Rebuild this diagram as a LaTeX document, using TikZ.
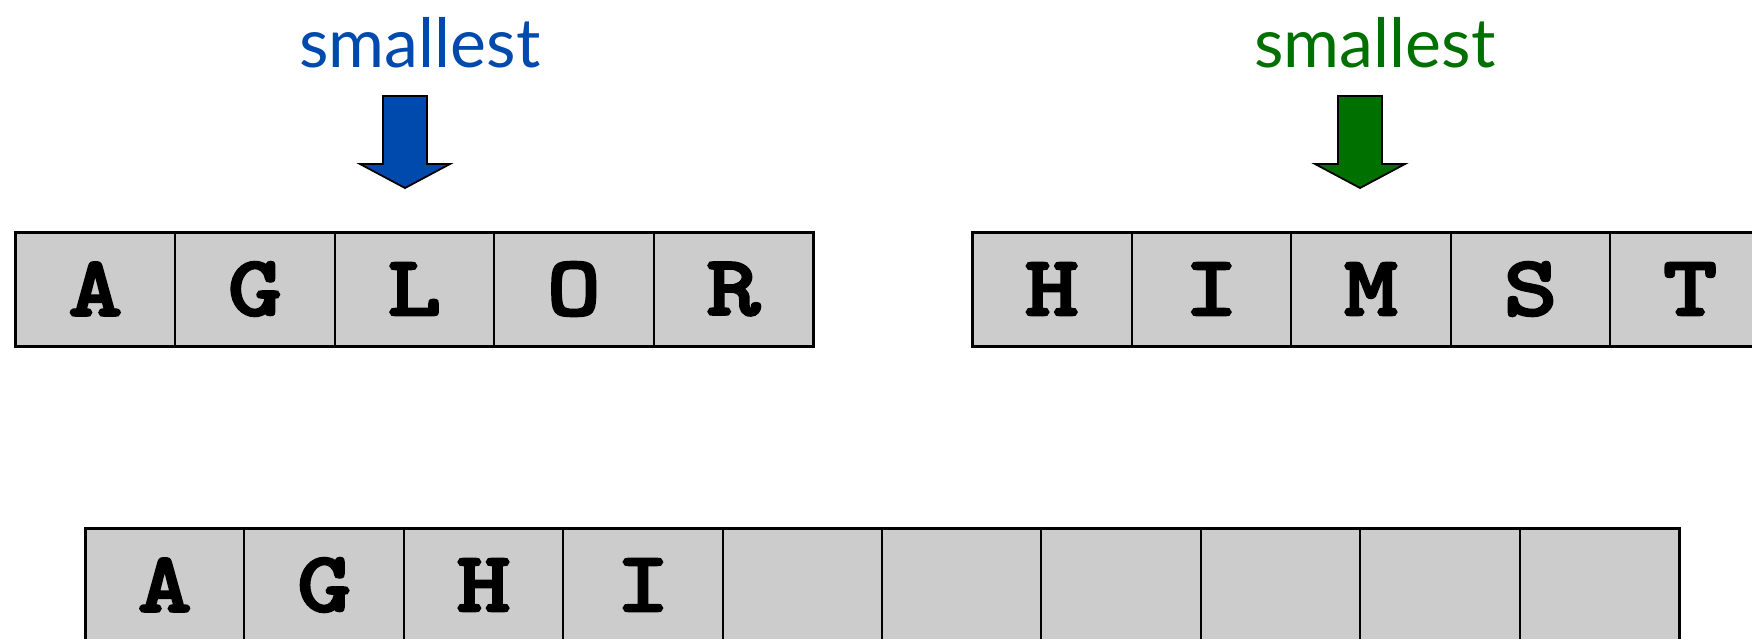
\documentclass[tikz,border=0pt]{standalone}
\usepackage{fontspec}
\setmainfont{Lato}
\newfontfamily\cellfont{lmmonolt10-bold.otf}[FakeBold=2.5,FakeStretch=1.2]
\definecolor{sblue}{RGB}{0,74,173}
\definecolor{sgreen}{RGB}{0,112,0}
\definecolor{cellgray}{RGB}{204,204,204}
\tikzset{
  cell/.style={draw=black, line width=2pt, fill=cellgray, minimum width=159.5pt,
    minimum height=114pt, inner sep=0pt, outer sep=0pt,
    font=\cellfont\fontsize{86}{86}\selectfont},
  lbl/.style={anchor=base, inner sep=0pt, font=\fontsize{68}{68}\selectfont},
  blockarrow/.style={draw=black, line width=1.8pt, line join=miter},
  frame/.style={draw=black, line width=3pt}
}
\begin{document}
\begin{tikzpicture}[x=1pt,y=-1pt]
\useasboundingbox[fill=white] (0,0) rectangle (1752,638);
% left array
\foreach \t [count=\i from 0] in {A,G,L,O,R}
  \node[cell] (l\i) at (95.35+\i*159.5,289) {\t};
\draw[frame] (l0.north west) rectangle (l4.south east);
% right array
\foreach \t [count=\i from 0] in {H,I,M,S,T}
  \node[cell] (r\i) at (1051.75+\i*159.6,289) {\t};
\draw[frame] (r0.north west) rectangle (r4.south east);
% bottom array
\foreach \t [count=\i from 0] in {A,G,H,I,,,,,,}
  \node[cell] (b\i) at (164.75+\i*159.4,585) {\t};
\draw[frame] (b0.north west) rectangle (b9.south east);
% labels
\node[lbl, text=sblue] (lblL) at (420,67) {smallest};
\node[lbl, text=sgreen] (lblR) at (1375,67) {smallest};
% arrows
\coordinate (aL) at (405,96);
\coordinate (aR) at (1360,96);
\draw[blockarrow, fill=sblue] (aL) ++(-22,0) -- ++(44,0) -- ++(0,68) -- ++(23,0) -- ++(-45,24) -- ++(-45,-24) -- ++(23,0) -- cycle;
\draw[blockarrow, fill=sgreen] (aR) ++(-22,0) -- ++(44,0) -- ++(0,68) -- ++(23,0) -- ++(-45,24) -- ++(-45,-24) -- ++(23,0) -- cycle;
\end{tikzpicture}
\end{document}
